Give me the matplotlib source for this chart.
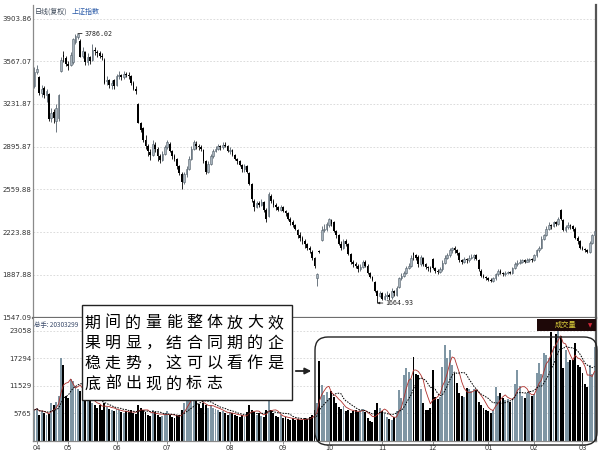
import numpy as np
import pandas as pd
import matplotlib
matplotlib.use("Agg")
import matplotlib.pyplot as plt
from matplotlib.patches import Rectangle, FancyBboxPatch

# === data (daily bars, Apr 2008 - Mar 2009) ===
opens = [3370, 3480, 3440, 3320, 3360, 3300, 3310, 3120, 3170, 3100,
         3120, 3490, 3620, 3590, 3550, 3540, 3560, 3720, 3760, 3730,
         3610, 3640, 3560, 3600, 3580, 3660, 3640, 3630, 3610, 3580,
         3410, 3420, 3380, 3420, 3380, 3450, 3460, 3440, 3470, 3460,
         3450, 3400, 3350, 3230, 3080, 3040, 2950, 2900, 2850, 2830,
         2910, 2880, 2820, 2790, 2840, 2890, 2920, 2860, 2820, 2800,
         2740, 2680, 2620, 2680, 2720, 2800, 2880, 2920, 2900, 2890,
         2870, 2780, 2700, 2760, 2820, 2860, 2880, 2900, 2890, 2910,
         2900, 2860, 2870, 2830, 2800, 2780, 2750, 2720, 2740, 2690,
         2600, 2470, 2420, 2450, 2440, 2460, 2400, 2350, 2510, 2470,
         2440, 2420, 2400, 2420, 2390, 2370, 2330, 2300, 2280, 2240,
         2200, 2180, 2150, 2130, 2100, 2070, 2020, 1860, 2075, 2160,
         2240, 2250, 2280, 2320, 2300, 2230, 2200, 2130, 2100, 2150,
         2130, 2050, 1990, 1970, 1960, 1930, 1950, 1990, 1960, 1900,
         1870, 1830, 1760, 1720, 1740, 1700, 1720, 1730, 1710, 1760,
         1730, 1790, 1860, 1880, 1900, 1940, 1960, 2060, 2040, 2030,
         1970, 2020, 1970, 1950, 1940, 2010, 1940, 1920, 1910, 1930,
         1980, 2020, 2040, 2080, 2100, 2080, 2060, 2000, 1990, 2010,
         2000, 2020, 2030, 2040, 2000, 1920, 1880, 1870, 1860, 1850,
         1840, 1860, 1890, 1920, 1900, 1890, 1900, 1910, 1900, 1940,
         1970, 1980, 1990, 2000, 1990, 2000, 2010, 2000, 2040, 2080,
         2100, 2170, 2200, 2250, 2280, 2270, 2300, 2290, 2400, 2320,
         2240, 2260, 2280, 2270, 2250, 2180, 2150, 2100, 2090, 2080,
         2070, 2140, 2200]
closes = [3480, 3510, 3320, 3350, 3300, 3330, 3110, 3160, 3120, 3200,
          3305, 3580, 3600, 3550, 3530, 3620, 3740, 3770, 3780, 3605,
          3650, 3560, 3600, 3570, 3660, 3650, 3630, 3610, 3600, 3400,
          3420, 3380, 3400, 3370, 3450, 3460, 3440, 3470, 3460, 3450,
          3400, 3350, 3330, 3085, 3030, 2950, 2900, 2860, 2830, 2920,
          2880, 2820, 2790, 2840, 2890, 2930, 2860, 2820, 2800, 2740,
          2690, 2620, 2680, 2720, 2800, 2880, 2930, 2900, 2890, 2880,
          2780, 2700, 2760, 2820, 2860, 2880, 2900, 2890, 2910, 2900,
          2860, 2870, 2830, 2800, 2780, 2750, 2720, 2740, 2700, 2600,
          2480, 2420, 2450, 2440, 2460, 2400, 2330, 2520, 2470, 2440,
          2420, 2400, 2420, 2390, 2370, 2330, 2300, 2280, 2250, 2200,
          2180, 2150, 2130, 2100, 2080, 2020, 1960, 1895, 2070, 2240,
          2250, 2290, 2330, 2290, 2230, 2200, 2130, 2100, 2150, 2130,
          2050, 1990, 1970, 1960, 1930, 1950, 1990, 1960, 1900, 1870,
          1850, 1760, 1720, 1740, 1700, 1720, 1730, 1710, 1760, 1740,
          1780, 1860, 1880, 1900, 1940, 1960, 2020, 2040, 2020, 1970,
          2030, 1970, 1950, 1940, 1930, 1940, 1920, 1910, 1930, 1980,
          2020, 2040, 2080, 2100, 2080, 2060, 2000, 1990, 2010, 2000,
          2020, 2030, 2040, 2010, 1930, 1880, 1870, 1860, 1850, 1840,
          1860, 1890, 1920, 1900, 1890, 1900, 1910, 1900, 1940, 1970,
          1980, 1990, 2000, 1990, 2000, 2010, 2000, 2040, 2080, 2100,
          2170, 2200, 2250, 2280, 2270, 2300, 2290, 2330, 2330, 2240,
          2260, 2280, 2270, 2250, 2180, 2150, 2100, 2090, 2080, 2070,
          2140, 2200, 2230]
highs = [3520, 3540, 3450, 3380, 3370, 3350, 3320, 3200, 3190, 3230,
         3310, 3600, 3650, 3610, 3570, 3640, 3750, 3780, 3786, 3740,
         3680, 3650, 3630, 3610, 3700, 3680, 3660, 3650, 3630, 3590,
         3450, 3430, 3420, 3430, 3470, 3490, 3470, 3490, 3480, 3480,
         3460, 3410, 3370, 3240, 3090, 3050, 2990, 2920, 2880, 2950,
         2930, 2890, 2840, 2860, 2910, 2950, 2930, 2870, 2840, 2810,
         2750, 2700, 2700, 2740, 2820, 2900, 2950, 2940, 2920, 2910,
         2880, 2790, 2780, 2840, 2880, 2900, 2920, 2910, 2930, 2930,
         2910, 2890, 2880, 2840, 2810, 2790, 2760, 2760, 2750, 2700,
         2610, 2480, 2470, 2470, 2480, 2470, 2410, 2535, 2520, 2480,
         2450, 2430, 2440, 2430, 2400, 2380, 2340, 2320, 2290, 2250,
         2220, 2190, 2170, 2140, 2110, 2080, 2030, 1900, 2080, 2270,
         2290, 2300, 2333, 2330, 2310, 2240, 2210, 2150, 2170, 2170,
         2140, 2060, 2000, 1990, 1970, 1970, 2000, 2000, 1970, 1910,
         1880, 1840, 1770, 1760, 1750, 1740, 1760, 1740, 1780, 1770,
         1800, 1870, 1900, 1920, 1960, 1980, 2040, 2070, 2050, 2040,
         2040, 2030, 1980, 1960, 1960, 2020, 1950, 1930, 1950, 2000,
         2040, 2060, 2100, 2105, 2110, 2090, 2070, 2010, 2030, 2020,
         2040, 2050, 2050, 2050, 2010, 1930, 1890, 1880, 1870, 1860,
         1870, 1900, 1930, 1930, 1910, 1920, 1920, 1920, 1950, 1990,
         2000, 2010, 2010, 2010, 2020, 2020, 2020, 2050, 2090, 2110,
         2190, 2210, 2270, 2300, 2290, 2310, 2310, 2340, 2402, 2330,
         2280, 2300, 2290, 2280, 2260, 2190, 2160, 2110, 2100, 2090,
         2150, 2210, 2260]
lows = [3360, 3470, 3300, 3290, 3280, 3250, 3100, 3090, 3080, 3007,
        3100, 3480, 3560, 3530, 3500, 3530, 3550, 3700, 3740, 3600,
        3590, 3540, 3540, 3550, 3570, 3620, 3600, 3590, 3580, 3390,
        3380, 3360, 3350, 3350, 3370, 3430, 3420, 3430, 3440, 3430,
        3380, 3340, 3310, 3080, 3010, 2930, 2880, 2820, 2790, 2820,
        2850, 2780, 2770, 2780, 2830, 2880, 2850, 2800, 2780, 2720,
        2670, 2566, 2600, 2660, 2710, 2790, 2870, 2880, 2870, 2860,
        2770, 2680, 2690, 2750, 2810, 2850, 2870, 2870, 2880, 2890,
        2850, 2840, 2820, 2790, 2760, 2740, 2700, 2700, 2690, 2590,
        2460, 2390, 2410, 2420, 2430, 2380, 2300, 2340, 2450, 2420,
        2400, 2390, 2390, 2380, 2350, 2320, 2280, 2260, 2240, 2180,
        2150, 2130, 2100, 2080, 2060, 2000, 1940, 1802, 2060, 2150,
        2220, 2230, 2260, 2270, 2220, 2180, 2120, 2080, 2090, 2110,
        2040, 1970, 1950, 1940, 1910, 1920, 1940, 1950, 1890, 1860,
        1840, 1750, 1665, 1710, 1690, 1690, 1700, 1690, 1700, 1720,
        1720, 1780, 1850, 1870, 1890, 1930, 1950, 2000, 2000, 1950,
        1960, 1960, 1930, 1920, 1910, 1930, 1900, 1890, 1900, 1920,
        1970, 2010, 2030, 2060, 2060, 2040, 1990, 1970, 1980, 1980,
        1990, 2010, 2000, 2000, 1920, 1870, 1860, 1850, 1840, 1830,
        1830, 1850, 1880, 1890, 1880, 1880, 1890, 1890, 1890, 1930,
        1960, 1970, 1980, 1980, 1985, 1990, 1990, 1995, 2030, 2070,
        2090, 2160, 2190, 2240, 2250, 2260, 2270, 2280, 2320, 2230,
        2220, 2250, 2250, 2230, 2170, 2130, 2090, 2080, 2070, 2060,
        2060, 2130, 2190]
vols = [6500, 7000, 5500, 6200, 5800, 5500, 5600, 8000, 7500, 8200,
        9500, 17400, 16000, 9500, 9000, 13000, 12500, 11500, 11000, 10500,
        9500, 9000, 8500, 9000, 8000, 7500, 7000, 7600, 6500, 8000,
        7200, 6800, 6500, 6200, 6800, 6500, 6000, 5800, 6200, 6000,
        6500, 5800, 5600, 7500, 7000, 6500, 6000, 5500, 5200, 6500,
        6000, 5500, 5000, 5200, 5800, 6200, 5500, 5000, 4800, 5200,
        5500, 6500, 8000, 8800, 9500, 10000, 9200, 8500, 7800, 7000,
        8000, 7500, 7000, 7500, 7000, 6800, 6500, 6000, 6200, 5800,
        5500, 6000, 5800, 5500, 5200, 5000, 5400, 5000, 6000, 7500,
        6500, 6000, 5500, 5800, 5200, 5000, 6500, 8600, 6500, 5800,
        5200, 5000, 5500, 4800, 5000, 4600, 4500, 4800, 4400, 4600,
        4500, 4300, 4800, 4600, 5000, 5500, 6500, 8000, 16800, 11700,
        9600, 10200, 9000, 10500, 9200, 8000, 7200, 6800, 7400, 6200,
        6500, 5800, 6200, 6600, 6000, 6400, 6800, 6000, 4800, 4200,
        3900, 6500, 8000, 7000, 6200, 5800, 5000, 4600, 4400, 5000,
        6200, 10700, 9000, 13800, 15300, 14500, 13000, 17600, 14000, 13800,
        11000, 8000, 6500, 6500, 7000, 14900, 9200, 8800, 9200, 15500,
        20100, 17500, 19000, 16000, 14300, 12200, 10000, 9500, 9200, 11100,
        10800, 10500, 11000, 10600, 8200, 7500, 6900, 6500, 6200, 5900,
        6500, 11300, 9500, 10000, 9000, 8500, 8800, 8200, 9000, 12000,
        14900, 11500, 9500, 9000, 10000, 10500, 9500, 9800, 14300, 16300,
        14000, 18400, 18000, 17500, 22800, 20000, 22500, 23000, 22000, 15300,
        19000, 16500, 17000, 17000, 20500, 16000, 15500, 14300, 12000, 11300,
        16000, 14000, 19700]

price_ticks = [1547.09, 1887.88, 2223.88, 2559.88, 2895.87, 3231.87, 3567.07, 3903.86]
vol_ticks = [5765, 11529, 17294, 23058]
month_labels = ["04", "05", "06", "07", "08", "09", "10", "11", "12", "01", "02", "03"]
month_idx = [1, 14, 34, 55, 81, 103, 122, 144, 165, 188, 207, 227]
note_lines = ["期间的量能整体放大效", "果明显，结合同期的企", "稳走势，这可以看作是", "底部出现的标志"]

CJK = ["Noto Sans CJK SC", "DejaVu Sans"]

o = np.array(opens, dtype=float)
c = np.array(closes, dtype=float)
h = np.array(highs, dtype=float)
l = np.array(lows, dtype=float)
v = np.array(vols, dtype=float)
idx = np.arange(len(c))
up = c >= o

UP_FACE = "#a8b4bd"
UP_EDGE = "#56626c"
VOL_UP = "#7f96a4"

fig = plt.figure(figsize=(6.05, 4.54), dpi=100)
W, H = 605.0, 454.0
x0, x1 = 33, 596

# === price panel ===
ax = fig.add_axes([x0 / W, 1 - 318 / H, (x1 - x0) / W, (318 - 5) / H])
ax.vlines(idx, l, h, colors=np.where(up, UP_EDGE, "black"), lw=0.6, zorder=2)
body = np.maximum(np.abs(c - o), 5)
ax.bar(idx[up], body[up], bottom=o[up], width=0.72, color=UP_FACE,
       edgecolor=UP_EDGE, lw=0.4, zorder=3)
ax.bar(idx[~up], body[~up], bottom=c[~up], width=0.72, color="black", lw=0, zorder=3)
ax.set_xlim(-0.6, len(c) - 0.4)
ax.set_ylim(1547.09, 1547.09 + 313 * 7.87)
ax.set_yticks(price_ticks)
ax.set_yticklabels([f"{t:.2f}" for t in price_ticks])
ax.tick_params(axis="y", length=0, pad=1.2, labelsize=5.0, labelcolor="#333333")
ax.set_xticks([])
ax.grid(axis="y", color="#d6d6d6", ls=(0, (2, 2)), lw=0.6)
ax.set_axisbelow(True)
for s in ["top"]:
    ax.spines[s].set_visible(False)
ax.spines["left"].set_color("#8a8a8a")
ax.spines["left"].set_linewidth(0.9)
ax.spines["right"].set_color("#555555")
ax.spines["right"].set_linewidth(1.6)
ax.spines["bottom"].set_color("#6e6e6e")
ax.spines["bottom"].set_linewidth(1.6)

# high / low marks
imax = int(np.argmax(h))
imin = int(np.argmin(l))
ax.annotate(f"{h[imax]:.2f}" if False else "3786.02", xy=(imax, h[imax]), xytext=(5, 0),
            textcoords="offset points", va="center", fontsize=4.8,
            family="DejaVu Sans Mono", color="#222222",
            arrowprops=dict(arrowstyle="-", color="#222222", lw=0.6, shrinkA=0, shrinkB=0))
ax.annotate("1664.93", xy=(imin, l[imin]), xytext=(6, 0),
            textcoords="offset points", va="center", fontsize=4.8,
            family="DejaVu Sans Mono", color="#222222",
            arrowprops=dict(arrowstyle="-|>", color="#222222", lw=0.6,
                            mutation_scale=3, shrinkA=0, shrinkB=0))

# === volume panel ===
vax = fig.add_axes([x0 / W, 1 - 441 / H, (x1 - x0) / W, (441 - 318) / H])
vax.bar(idx, v, width=0.8, color=np.where(up, VOL_UP, "black"), lw=0, zorder=2)
ma5 = pd.Series(v).rolling(5, min_periods=1).mean()
ma10 = pd.Series(v).rolling(10, min_periods=1).mean()
vax.plot(idx, ma5, color="#b0302c", lw=0.6, zorder=3)
vax.plot(idx, ma10, color="black", lw=0.7, ls=(0, (1.6, 1.2)), zorder=3)
vax.set_xlim(-0.6, len(c) - 0.4)
vax.set_ylim(0, 123 * 209.6)
vax.set_yticks(vol_ticks)
vax.set_yticklabels([str(t) for t in vol_ticks])
vax.tick_params(axis="y", length=0, pad=1.2, labelsize=5.0, labelcolor="#333333")
vax.set_xticks(month_idx)
vax.set_xticklabels(month_labels)
vax.tick_params(axis="x", length=2, width=0.6, pad=1, labelsize=4.8,
                labelcolor="#333333", color="#777777")
vax.grid(axis="y", color="#d6d6d6", ls=(0, (2, 2)), lw=0.6)
vax.set_axisbelow(True)
vax.spines["top"].set_visible(False)
vax.spines["left"].set_color("#8a8a8a")
vax.spines["left"].set_linewidth(0.9)
vax.spines["bottom"].set_color("#8a8a8a")
vax.spines["bottom"].set_linewidth(0.9)
vax.spines["right"].set_color("#555555")
vax.spines["right"].set_linewidth(1.6)

# === overlay in pixel coordinates: titles, note box, arrow ===
ov = fig.add_axes([0, 0, 1, 1], zorder=10)
ov.set_xlim(0, W)
ov.set_ylim(H, 0)
ov.axis("off")
ov.patch.set_alpha(0)

ov.text(35, 12, "日线(复权)", fontsize=5, family=CJK, color="#3a4656", va="center")
ov.text(72, 12, "上证指数", fontsize=5, family=CJK, color="#2a5aa8", va="center")
ov.text(34, 325, "总手: 20303299", fontsize=4.6, family=CJK, color="#3a4a6a", va="center")

# volume label tag
ov.add_patch(Rectangle((537, 319), 59, 12, facecolor="#1e0808", edgecolor="none"))
ov.text(566, 325, "成交量", fontsize=5.2, family=CJK, color="#d9cc3a",
        ha="center", va="center")
ov.text(590, 325.5, "▼", fontsize=4, family="DejaVu Sans", color="#d0283a",
        ha="center", va="center")

# note box
ov.add_patch(Rectangle((82, 305), 210, 95, facecolor="white", edgecolor="#222222", lw=1.0))
for row, line in enumerate(note_lines):
    for k, ch in enumerate(line):
        ov.text(92.5 + 20.3 * k, 323 + 20.3 * row, ch, fontsize=11.5, family=CJK,
                color="black", ha="center", va="center")

ov.annotate("", xy=(314, 371), xytext=(293, 371),
            arrowprops=dict(arrowstyle="-|>", color="#222222", lw=1.3, mutation_scale=9))

ov.add_patch(FancyBboxPatch((315, 337), 282, 108,
                            boxstyle="round,pad=0,rounding_size=13",
                            facecolor="none", edgecolor="#222222", lw=1.0))

fig.savefig("out.png", dpi=100)
